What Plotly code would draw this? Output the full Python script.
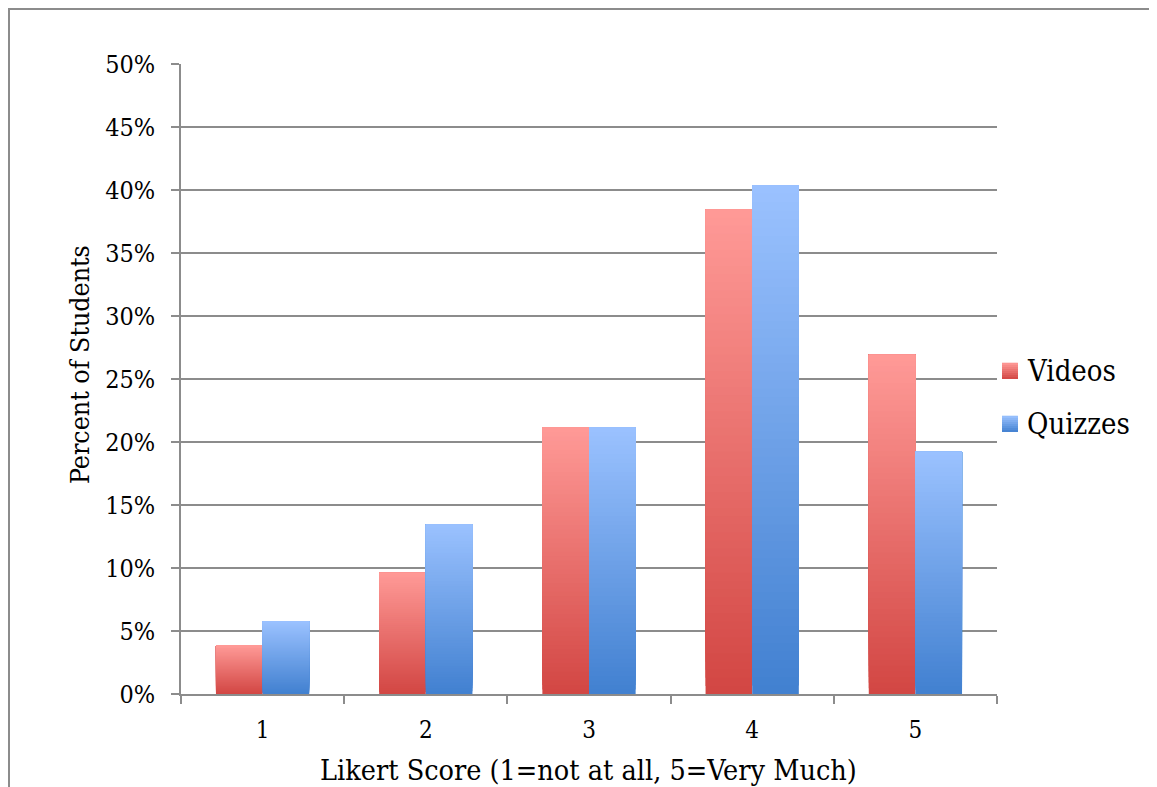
import plotly.graph_objects as go

categories = ["1", "2", "3", "4", "5"]
videos = [3.85, 9.62, 21.15, 38.46, 26.92]
quizzes = [5.77, 13.46, 21.15, 40.38, 19.23]
series_names = ["Videos", "Quizzes"]
y_ticks = [0, 5, 10, 15, 20, 25, 30, 35, 40, 45, 50]
y_tick_labels = [f"{t}%" for t in y_ticks]
x_title = "Likert Score (1=not at all, 5=Very Much)"
y_title = "Percent of Students"

FONT = "DejaVu Serif Condensed, DejaVu Serif"
N = 60
grad = {
    "Videos": ((210, 70, 67), (255, 154, 151)),
    "Quizzes": ((65, 128, 208), (155, 194, 255)),
}

def mix(c0, c1, t):
    return "rgb(%d,%d,%d)" % tuple(round(a + (b - a) * t) for a, b in zip(c0, c1))

fig = go.Figure()
for name, vals in zip(series_names, [videos, quizzes]):
    c0, c1 = grad[name]
    for i in range(N):
        t = (i + 0.5) / N
        # each slice runs from its own start to the bar top; later slices cover the upper part
        fig.add_trace(go.Bar(
            x=categories,
            y=[v * (N - i) / N for v in vals],
            base=[v * i / N for v in vals],
            offsetgroup=name,
            name=name,
            showlegend=False,
            marker=dict(color=mix(c0, c1, t), line=dict(width=0)),
            hoverinfo="skip",
        ))

W, H = 1157, 787
OFF = 8  # page body margin
L, R, T, B = 181, 997, 64, 694  # plot area in screen pixels
pw, ph = R - L, B - T

def px(x):
    return (x - L) / pw

def py(y):
    return (B - y) / ph

shapes = [dict(type="rect", xref="paper", yref="paper",
               x0=px(9), x1=px(1500), y0=py(1100), y1=py(9),
               line=dict(color="#8c8c8c", width=2), fillcolor="rgba(0,0,0,0)", layer="below")]
annotations = []
for k, name in enumerate(series_names):
    c0, c1 = grad[name]
    yc = 371 + 53 * k
    top, bot = yc - 8, yc + 8
    M = 8
    for j in range(M):
        y0 = bot - (bot - top) * j / M
        y1 = bot - (bot - top) * (j + 1) / M - 0.3
        shapes.append(dict(type="rect", xref="paper", yref="paper",
                           x0=px(1002), x1=px(1018), y0=py(y0), y1=py(y1),
                           line=dict(width=0), fillcolor=mix(c0, c1, (j + 0.5) / M)))
    annotations.append(dict(text=name, xref="paper", yref="paper", x=px(1025), y=py(yc),
                            xanchor="left", yanchor="middle", showarrow=False,
                            font=dict(family=FONT, size=29, color="black")))

annotations.append(dict(text=x_title, xref="paper", yref="paper", x=px(588), y=py(770),
                        xanchor="center", yanchor="middle", showarrow=False,
                        font=dict(family=FONT, size=28.5, color="black")))
annotations.append(dict(text=y_title, xref="paper", yref="paper", x=px(79), y=py(365),
                        xanchor="center", yanchor="middle", showarrow=False, textangle=-90,
                        font=dict(family=FONT, size=26.5, color="black")))

fig.update_layout(
    width=W, height=H,
    margin=dict(l=L - OFF, r=W - (R - OFF), t=T - OFF, b=H - (B - OFF), pad=0),
    paper_bgcolor="white", plot_bgcolor="white",
    barmode="group", bargap=1.5 / 3.5, bargroupgap=0,
    font=dict(family=FONT, size=24, color="black"),
    showlegend=False,
    shapes=shapes, annotations=annotations,
    xaxis=dict(
        type="category", tickson="boundaries", ticks="outside", ticklen=8,
        tickcolor="#8c8c8c", tickwidth=1.5, showline=True, linecolor="#8c8c8c",
        linewidth=1.5, showgrid=False, tickfont=dict(family=FONT, size=24),
        ticklabelstandoff=13,
    ),
    yaxis=dict(
        range=[0, 50], tickmode="array", tickvals=y_ticks, ticktext=y_tick_labels,
        ticks="outside", ticklen=8, tickcolor="#8c8c8c", tickwidth=1.5,
        showline=True, linecolor="#8c8c8c", linewidth=1.5,
        showgrid=True, gridcolor="#8c8c8c", gridwidth=1.5, zeroline=False,
        tickfont=dict(family=FONT, size=25), ticklabelstandoff=11,
    ),
)

fig.write_html("out.html")
